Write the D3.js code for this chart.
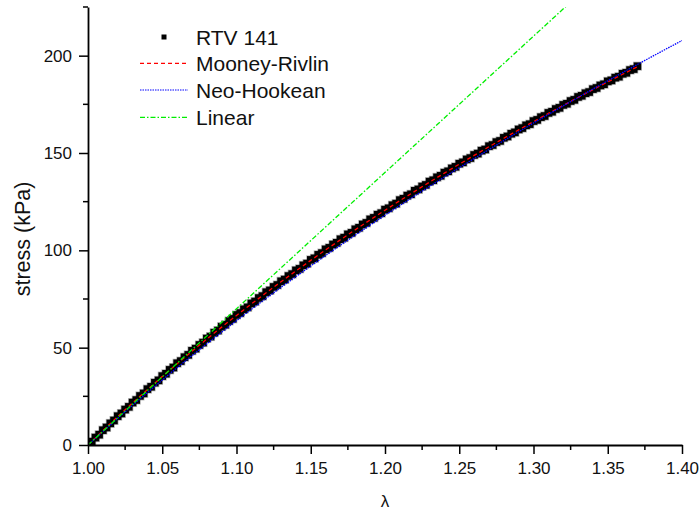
<!DOCTYPE html>
<html>
<head>
<meta charset="utf-8">
<script src="https://cdn.jsdelivr.net/npm/d3@7"></script>
<style>
  body { margin: 0; background: #fff; }
  svg { display: block; font-family: Arial, "Liberation Sans", sans-serif; }
</style>
</head>
<body>
<svg></svg>
<script>
(function () {
  'use strict';

  // measured stress (kPa), one reading every 0.0025 of stretch starting at 1.00
  var rtvStress = [
    0.2, 1.7, 3.8, 5.3, 7.6, 9.0, 11.1, 12.6, 14.8, 16.2, 18.2, 19.6,
    21.8, 23.1, 25.2, 26.5, 28.7, 29.9, 32.0, 33.2, 35.4, 36.6, 38.6, 39.8,
    42.0, 43.1, 45.1, 46.3, 48.4, 49.5, 51.4, 52.6, 54.7, 55.7, 57.7, 58.8,
    60.8, 61.8, 63.7, 64.8, 66.8, 67.8, 69.7, 70.7, 72.7, 73.7, 75.5, 76.5,
    78.5, 79.4, 81.2, 82.2, 84.1, 85.0, 86.8, 87.8, 89.7, 90.5, 92.3, 93.2,
    95.1, 95.9, 97.7, 98.6, 100.5, 101.3, 103.0, 103.9, 105.7, 106.5, 108.2, 109.0,
    110.8, 111.6, 113.3, 114.1, 115.9, 116.7, 118.3, 119.1, 120.9, 121.6, 123.2, 124.0,
    125.8, 126.5, 128.1, 128.8, 130.6, 131.3, 132.8, 133.6, 135.3, 136.0, 137.5, 138.3,
    139.9, 140.6, 142.1, 142.9, 144.5, 145.2, 146.7, 147.4, 149.0, 149.7, 151.2, 151.8,
    153.5, 154.1, 155.6, 156.2, 157.8, 158.5, 159.9, 160.6, 162.1, 162.8, 164.2, 164.8,
    166.4, 167.0, 168.4, 169.0, 170.6, 171.2, 172.6, 173.2, 174.7, 175.3, 176.7, 177.3,
    178.8, 179.4, 180.7, 181.3, 182.8, 183.4, 184.7, 185.3, 186.8, 187.3, 188.7, 189.2,
    190.7, 191.2, 192.6, 193.1, 194.6
  ];
  var rtvLambda = d3.range(rtvStress.length).map(function (i) { return 1 + i * 0.0025; });

  // fitted curves, read every 0.01
  var mooneyLambda = [1.00, 1.01, 1.02, 1.03, 1.04, 1.05, 1.06, 1.07, 1.08, 1.09,
    1.10, 1.11, 1.12, 1.13, 1.14, 1.15, 1.16, 1.17, 1.18, 1.19, 1.20, 1.21, 1.22,
    1.23, 1.24, 1.25, 1.26, 1.27, 1.28, 1.29, 1.30, 1.31, 1.32, 1.33, 1.34, 1.35,
    1.36, 1.37];
  var mooneyStress = [0, 7.38, 14.58, 21.60, 28.47, 35.17, 41.73, 48.14, 54.41, 60.55,
    66.56, 72.45, 78.21, 83.87, 89.41, 94.85, 100.20, 105.43, 110.58, 115.64, 120.61,
    125.50, 130.30, 135.02, 139.67, 144.25, 148.76, 153.20, 157.58, 161.88, 166.13,
    170.32, 174.45, 178.53, 182.55, 186.52, 190.44, 194.31];

  var neoLambda = [1.00, 1.01, 1.02, 1.03, 1.04, 1.05, 1.06, 1.07, 1.08, 1.09,
    1.10, 1.11, 1.12, 1.13, 1.14, 1.15, 1.16, 1.17, 1.18, 1.19, 1.20, 1.21, 1.22,
    1.23, 1.24, 1.25, 1.26, 1.27, 1.28, 1.29, 1.30, 1.31, 1.32, 1.33, 1.34, 1.35,
    1.36, 1.37, 1.38, 1.39, 1.40];
  var neoStress = [0, 6.93, 13.74, 20.41, 26.96, 33.38, 39.70, 45.90, 51.99, 57.98,
    63.87, 69.67, 75.38, 80.99, 86.52, 91.97, 97.33, 102.62, 107.83, 112.98, 118.05,
    123.05, 127.99, 132.87, 137.68, 142.44, 147.13, 151.78, 156.36, 160.90, 165.38,
    169.82, 174.21, 178.55, 182.85, 187.10, 191.32, 195.49, 199.62, 203.71, 207.77];

  var linearLambda = [1.00, 1.35];
  var linearStress = [0, 245];

  var xTicks = [1.00, 1.05, 1.10, 1.15, 1.20, 1.25, 1.30, 1.35, 1.40];
  var yTicks = [0, 50, 100, 150, 200];
  var legendLabels = ['RTV 141', 'Mooney-Rivlin', 'Neo-Hookean', 'Linear'];

  var svg = d3.select('svg')
      .attr('width', 700)
      .attr('height', 512);

  var x = d3.scaleLinear().domain([1.0, 1.4]).range([88, 682]);
  var y = d3.scaleLinear().domain([0, 225]).range([445, 7]);

  svg.append('defs').append('clipPath')
      .attr('id', 'plot')
    .append('rect')
      .attr('x', 88)
      .attr('y', 7)
      .attr('width', 594)
      .attr('height', 438);

  var plot = svg.append('g').attr('clip-path', 'url(#plot)');

  // data squares
  var sq = 7.5;
  plot.append('g')
    .selectAll('rect')
    .data(rtvLambda)
    .enter()
    .append('rect')
      .attr('x', function (d) { return x(d) - sq / 2; })
      .attr('y', function (d, i) { return y(rtvStress[i]) - sq / 2; })
      .attr('width', sq)
      .attr('height', sq)
      .style('fill', '#000')
      .style('stroke', 'rgba(0,0,0,0.3)')
      .style('stroke-width', 1.5);

  function curve(xs, ys) {
    return d3.line()
      .x(function (d) { return x(d); })
      .y(function (d, i) { return y(ys[i]); })(xs);
  }

  var fits = [
    { xs: mooneyLambda, ys: mooneyStress, color: '#ff0000', dash: '4,3' },
    { xs: neoLambda, ys: neoStress, color: '#0000ff', dash: '1.5,1' },
    { xs: linearLambda, ys: linearStress, color: '#00ee00', dash: '5,2,1.5,2' }
  ];

  fits.forEach(function (f) {
    plot.append('path')
      .attr('d', curve(f.xs, f.ys))
      .style('fill', 'none')
      .style('stroke', f.color)
      .style('stroke-width', 1.3)
      .style('stroke-dasharray', f.dash);
  });

  // axes (Origin style: left and bottom only, outward ticks)
  var xAxis = d3.axisBottom(x)
      .tickValues(xTicks)
      .tickFormat(d3.format('.2f'))
      .tickSizeInner(9)
      .tickSizeOuter(0)
      .tickPadding(8);

  var gx = svg.append('g')
      .attr('transform', 'translate(0,445)')
      .call(xAxis);

  var yAxis = d3.axisLeft(y)
      .tickValues(yTicks)
      .tickSizeInner(9)
      .tickSizeOuter(0)
      .tickPadding(7);

  var gy = svg.append('g')
      .attr('transform', 'translate(88,0)')
      .call(yAxis);

  [gx, gy].forEach(function (g) {
    g.select('.domain').style('stroke', '#000').style('stroke-width', 1.8);
    g.selectAll('.tick line').style('stroke', '#000').style('stroke-width', 1.5);
    g.selectAll('.tick text')
      .style('font-family', 'Arial, "Liberation Sans", sans-serif')
      .style('font-size', '17px')
      .style('fill', '#111');
  });

  // minor ticks
  gx.selectAll('.minor')
    .data(d3.range(8).map(function (i) { return 1.025 + i * 0.05; }))
    .enter()
    .append('line')
      .attr('x1', function (d) { return x(d); })
      .attr('x2', function (d) { return x(d); })
      .attr('y1', 0)
      .attr('y2', 5)
      .style('stroke', '#000')
      .style('stroke-width', 1.5);

  gy.selectAll('.minor')
    .data([25, 75, 125, 175, 225])
    .enter()
    .append('line')
      .attr('y1', function (d) { return y(d); })
      .attr('y2', function (d) { return y(d); })
      .attr('x1', 0)
      .attr('x2', -5)
      .style('stroke', '#000')
      .style('stroke-width', 1.5);

  // axis titles
  svg.append('text')
      .attr('x', 385)
      .attr('y', 507)
      .attr('text-anchor', 'middle')
      .style('font-size', '17px')
      .style('fill', '#111')
      .text('λ');

  svg.append('text')
      .attr('transform', 'translate(30,239) rotate(-90)')
      .attr('text-anchor', 'middle')
      .style('font-size', '21.5px')
      .style('fill', '#111')
      .text('stress (kPa)');

  // legend
  var legend = svg.append('g');
  var rowY = [37, 63.3, 90, 117.3];

  legend.append('rect')
      .attr('x', 161.5)
      .attr('y', rowY[0] - 2.5)
      .attr('width', 5)
      .attr('height', 5)
      .style('fill', '#000');

  fits.forEach(function (f, i) {
    legend.append('line')
      .attr('x1', 140)
      .attr('x2', 188)
      .attr('y1', rowY[i + 1])
      .attr('y2', rowY[i + 1])
      .style('stroke', f.color)
      .style('stroke-width', 1.2)
      .style('stroke-dasharray', f.dash);
  });

  legend.selectAll('text')
    .data(legendLabels)
    .enter()
    .append('text')
      .attr('x', 196)
      .attr('y', function (d, i) { return rowY[i] + 7.5; })
      .style('font-size', '21px')
      .style('fill', '#111')
      .text(function (d) { return d; });
}());
</script>
</body>
</html>
